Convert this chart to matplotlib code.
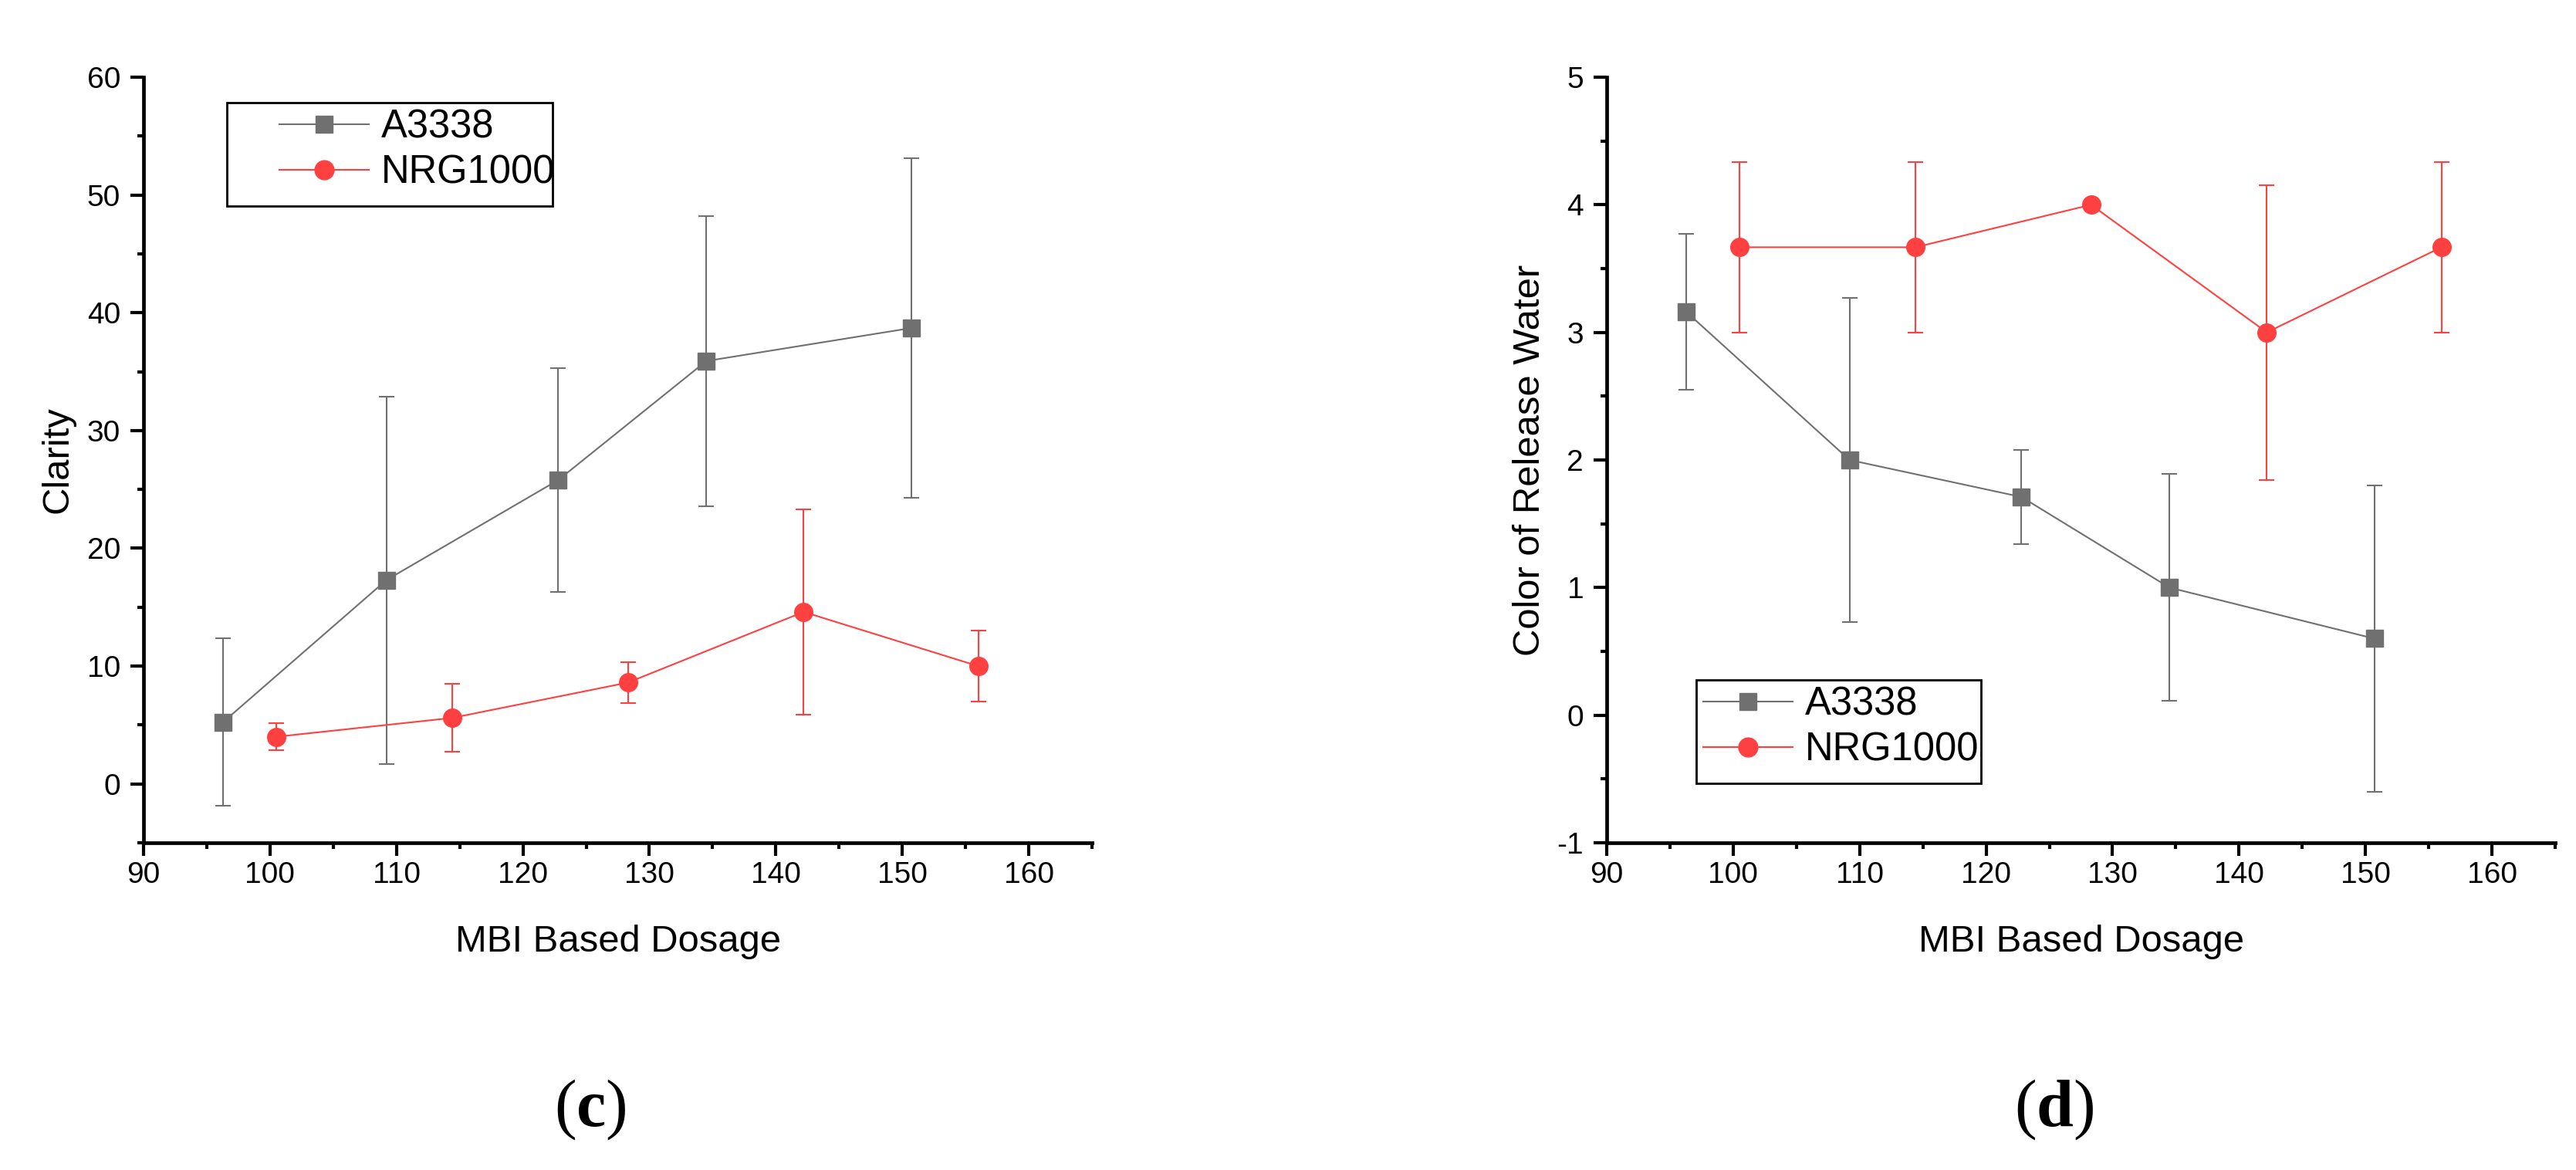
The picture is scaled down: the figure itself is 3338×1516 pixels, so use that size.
import matplotlib
matplotlib.use("Agg")
import matplotlib.pyplot as plt
from matplotlib.patches import Rectangle
from matplotlib.ticker import MultipleLocator

plt.rcParams['font.family'] = ['Liberation Sans', 'DejaVu Sans']
plt.rcParams['mathtext.fontset'] = 'custom'
plt.rcParams['mathtext.rm'] = 'Liberation Serif'
plt.rcParams['mathtext.bf'] = 'Liberation Serif:bold'
plt.rcParams['axes.unicode_minus'] = False

# ---- data ----
x_a3338 = [96.3, 109.2, 122.8, 134.5, 150.7]
x_nrg = [100.5, 114.4, 128.3, 142.2, 156.0]

clarity_a3338 = [5.25, 17.3, 25.8, 35.9, 38.7]
clarity_a3338_err = [7.1, 15.6, 9.5, 12.3, 14.4]
clarity_nrg = [4.0, 5.6, 8.6, 14.6, 10.0]
clarity_nrg_err = [1.13, 2.9, 1.76, 8.7, 3.0]

color_a3338 = [3.16, 2.0, 1.71, 1.0, 0.6]
color_a3338_err = [0.61, 1.27, 0.37, 0.89, 1.2]
color_nrg = [3.667, 3.667, 4.0, 3.0, 3.667]
color_nrg_err = [0.667, 0.667, 0.0, 1.155, 0.667]

series_labels = ['A3338', 'NRG1000']
panel_labels = ['c', 'd']
ylabels = ['Clarity', 'Color of Release Water']
xlabel = 'MBI Based Dosage'
xticks = [90, 100, 110, 120, 130, 140, 150, 160]

GRAY = '#707070'
RED = '#ff4040'

W, H = 3338, 1516
fig = plt.figure(figsize=(W / 100, H / 100), dpi=100)

ax_bottom = 1 - 1092 / H
ax_height = (1092 - 100) / H
ax1 = fig.add_axes([186 / W, ax_bottom, 1229 / W, ax_height])
ax2 = fig.add_axes([2082 / W, ax_bottom, 1229 / W, ax_height])

panels = [
    (ax1, clarity_a3338, clarity_a3338_err, clarity_nrg, clarity_nrg_err,
     (-5, 60), 10, 5, 11),
    (ax2, color_a3338, color_a3338_err, color_nrg, color_nrg_err,
     (-1, 5), 1, 0.5, 9),
]

handles_all = []
for i, (ax, ya, ea, yn, en, ylim, major, minor, ylpad) in enumerate(panels):
    c1 = ax.errorbar(x_a3338, ya, yerr=ea, color=GRAY, lw=1.5, marker='s',
                     ms=15.5, mec=GRAY, ecolor=GRAY, elinewidth=1.5,
                     capsize=7, capthick=1.5, label=series_labels[0], zorder=3)
    c2 = ax.errorbar(x_nrg, yn, yerr=en, color=RED, lw=1.5, marker='o',
                     ms=17, mec=RED, ecolor=RED, elinewidth=1.5,
                     capsize=7, capthick=1.5, label=series_labels[1], zorder=3)
    handles_all.append([c1.lines[0], c2.lines[0]])
    ax.set_xlim(90, 165)
    ax.set_ylim(*ylim)
    ax.set_xticks(xticks)
    ax.xaxis.set_minor_locator(MultipleLocator(5))
    ax.yaxis.set_major_locator(MultipleLocator(major))
    ax.yaxis.set_minor_locator(MultipleLocator(minor))
    for s in ['top', 'right']:
        ax.spines[s].set_visible(False)
    for s in ['left', 'bottom']:
        ax.spines[s].set_linewidth(3.4)
    ax.tick_params(which='major', direction='out', length=12.5, width=3,
                   labelsize=28)
    ax.tick_params(axis='x', which='major', pad=5)
    ax.tick_params(axis='y', which='major', pad=9)
    ax.tick_params(which='minor', direction='out', length=6, width=3)
    ax.set_xlabel(xlabel, fontsize=35.3, labelpad=33)
    ax.set_ylabel(ylabels[i], fontsize=35.3, labelpad=ylpad)
    ax.patch.set_visible(False)

# legends (frame drawn separately to match the reference padding)
def add_legend(ax, handles, left_px, top_px, right_px, bottom_px, text_x_px):
    pos = ax.get_position()
    fx0 = pos.x0 * W
    fy0 = (1 - pos.y0) * H
    aw = pos.width * W
    ah = pos.height * H

    def to_ax(px, py):
        return ((px - fx0) / aw, (fy0 - py) / ah)
    x0, y0 = to_ax(left_px, bottom_px)
    x1, y1 = to_ax(right_px, top_px)
    ax.add_patch(Rectangle((x0, y0), x1 - x0, y1 - y0, transform=ax.transAxes,
                           fill=False, lw=2.0, ec='black', zorder=5,
                           clip_on=False))
    hx, hy = to_ax(text_x_px, top_px)
    leg = ax.legend(handles, series_labels, loc='upper left',
                    bbox_to_anchor=(hx, hy), frameon=False,
                    fontsize=36.5, handlelength=2.3, handletextpad=0.3,
                    borderpad=0.15, labelspacing=0.2, borderaxespad=0,
                    markerscale=1.05)
    return leg

add_legend(ax1, handles_all[0], 294, 133, 716, 267, 354)
add_legend(ax2, handles_all[1], 2198, 881, 2567, 1015, 2199)

# panel labels
fig.text(765 / W, 1 - 1438 / H, r'$(\mathbf{%s})$' % panel_labels[0],
         fontsize=62, ha='center', va='center')
fig.text(2662 / W, 1 - 1438 / H, r'$(\mathbf{%s})$' % panel_labels[1],
         fontsize=62, ha='center', va='center')

fig.savefig('out.png', dpi=100)
